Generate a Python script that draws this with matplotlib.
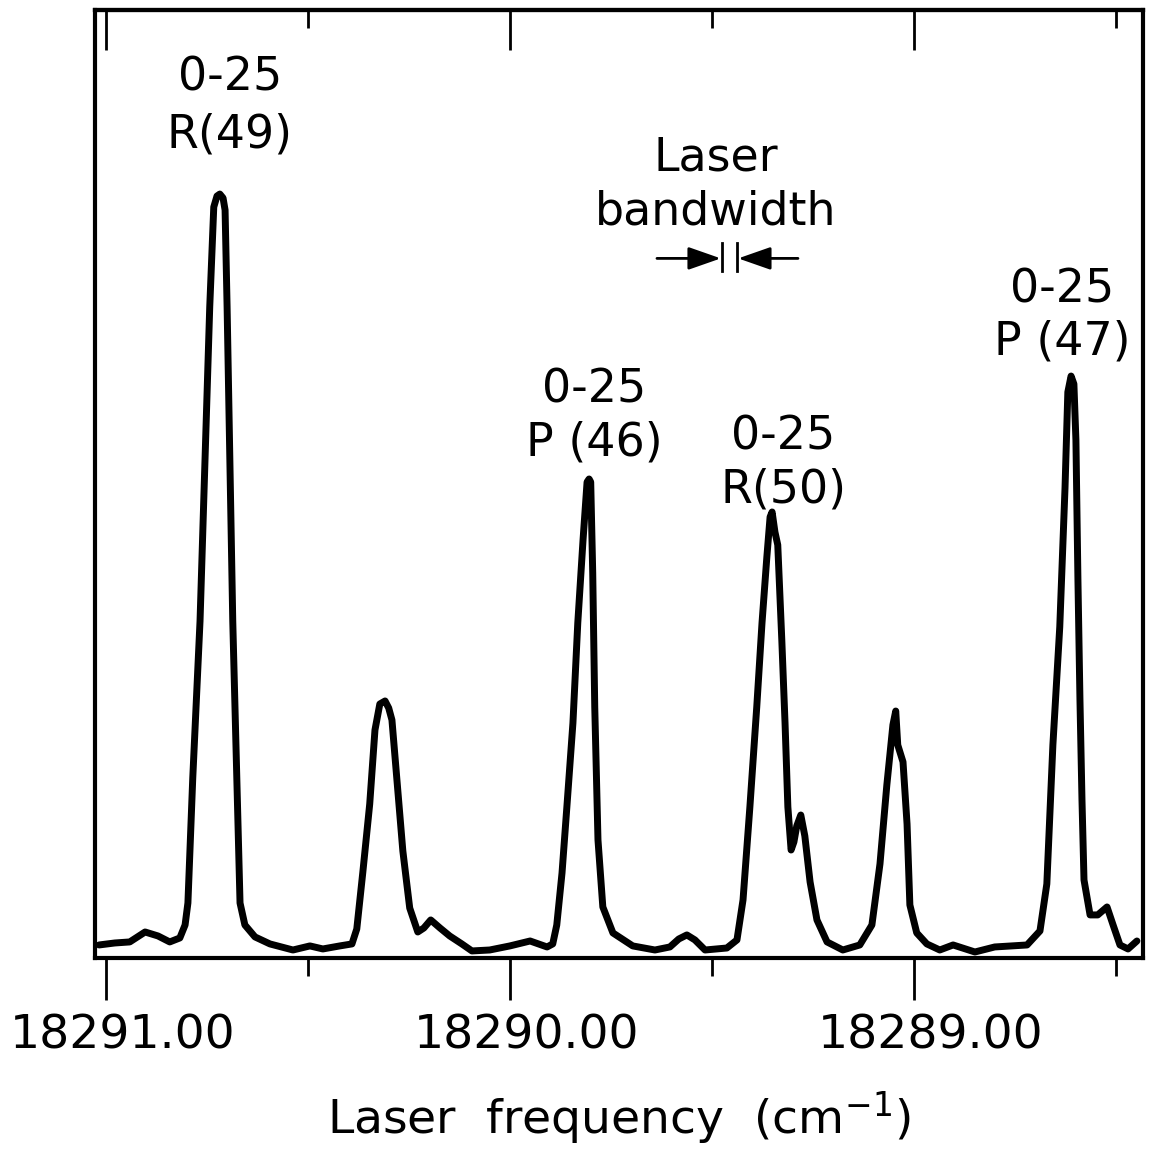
import matplotlib
matplotlib.use("Agg")
import matplotlib.pyplot as plt
from matplotlib.transforms import ScaledTranslation

# ---- data ----
freq = [18291.017, 18290.978, 18290.941, 18290.903, 18290.871, 18290.842, 18290.817,
        18290.804, 18290.797, 18290.785, 18290.767, 18290.755, 18290.743, 18290.733,
        18290.725, 18290.718, 18290.710, 18290.705, 18290.700, 18290.693, 18290.686,
        18290.676, 18290.668, 18290.656, 18290.631, 18290.594, 18290.537, 18290.495,
        18290.463, 18290.421, 18290.391, 18290.379, 18290.364, 18290.347, 18290.334,
        18290.322, 18290.309, 18290.300, 18290.292, 18290.280, 18290.265, 18290.248,
        18290.228, 18290.213, 18290.196, 18290.173, 18290.149, 18290.119, 18290.094,
        18290.050, 18290.000, 18289.950, 18289.908, 18289.894, 18289.884, 18289.871,
        18289.859, 18289.844, 18289.832, 18289.819, 18289.809, 18289.804, 18289.800,
        18289.795, 18289.790, 18289.782, 18289.770, 18289.745, 18289.696, 18289.641,
        18289.604, 18289.582, 18289.562, 18289.542, 18289.517, 18289.463, 18289.438,
        18289.423, 18289.406, 18289.389, 18289.376, 18289.364, 18289.356, 18289.351,
        18289.344, 18289.337, 18289.327, 18289.319, 18289.312, 18289.304, 18289.297,
        18289.290, 18289.280, 18289.270, 18289.257, 18289.240, 18289.215, 18289.176,
        18289.134, 18289.104, 18289.084, 18289.067, 18289.052, 18289.045, 18289.040,
        18289.027, 18289.017, 18289.010, 18288.993, 18288.968, 18288.936, 18288.903,
        18288.849, 18288.800, 18288.720, 18288.688, 18288.671, 18288.656, 18288.639,
        18288.626, 18288.619, 18288.611, 18288.604, 18288.599, 18288.594, 18288.589,
        18288.584, 18288.579, 18288.564, 18288.545, 18288.522, 18288.507, 18288.490,
        18288.470, 18288.448]

intensity = [1.37, 1.58, 1.69, 2.74, 2.32, 1.69, 2.11,
             3.48, 5.80, 18.99, 35.55, 52.11, 68.67, 79.22,
             80.38, 80.59, 80.17, 78.90, 68.67, 52.11, 35.55,
             18.99, 5.80, 3.48, 2.22, 1.48, 0.84, 1.27,
             0.95, 1.27, 1.48, 3.06, 9.07, 16.24, 24.05,
             26.79, 27.11, 26.37, 25.11, 18.99, 11.29, 5.27,
             2.74, 3.16, 4.01, 3.16, 2.32, 1.48, 0.74,
             0.84, 1.27, 1.79, 1.16, 1.48, 3.48, 8.97,
             15.93, 24.79, 35.34, 44.09, 50.21, 50.53, 50.21,
             40.61, 26.48, 12.45, 5.38, 2.64, 1.27, 0.84,
             1.16, 2.00, 2.43, 1.90, 0.84, 1.05, 1.90,
             6.12, 15.93, 26.48, 35.34, 42.30, 46.52, 47.05,
             44.94, 43.57, 33.54, 24.79, 15.93, 11.39, 12.24,
             13.92, 15.08, 12.87, 8.02, 4.01, 1.69, 0.84,
             1.37, 3.48, 9.92, 18.25, 24.58, 26.05, 22.47,
             20.68, 14.14, 5.59, 2.64, 1.48, 0.84, 1.37,
             0.63, 1.16, 1.37, 2.85, 7.81, 22.47, 34.92,
             49.58, 59.70, 61.39, 60.55, 54.64, 39.87, 27.22,
             16.67, 8.23, 4.54, 4.54, 5.38, 3.48, 1.37,
             0.95, 1.79]

major_ticks = [18291.00, 18290.00, 18289.00]
minor_ticks = [18290.50, 18289.50, 18288.50]
tick_labels = ["18291.00", "18290.00", "18289.00"]

line_names = ["0-25", "0-25", "0-25", "0-25"]
branch_names = ["R(49)", "P (46)", "R(50)", "P (47)"]
label_x = [18290.693, 18289.792, 18289.324, 18288.634]
label_y_top = [92.8, 59.9, 55.0, 70.5]
label_y_bot = [86.8, 54.3, 49.4, 65.0]

plt.rcParams['font.family'] = ['DejaVu Sans']

fig = plt.figure(figsize=(11.5, 11.55), dpi=100)
ax = fig.add_axes([0.0826, 0.1706, 0.9113, 0.8207])

ax.plot(freq, intensity, color='black', lw=5.0, solid_joinstyle='round',
        solid_capstyle='round')

ax.set_xlim(18291.027, 18288.433)
ax.set_ylim(0, 100)

for s in ax.spines.values():
    s.set_linewidth(3.0)

ax.set_yticks([])
ax.set_xticks(major_ticks)
ax.set_xticks(minor_ticks, minor=True)
ax.set_xticklabels(tick_labels, fontsize=34)
ax.tick_params(axis='x', which='major', direction='out', length=30, width=2.0,
               pad=10, top=False)
ax.tick_params(axis='x', which='minor', direction='out', length=13, width=2.0,
               top=False)

# inward ticks on the top spine
sec = ax.secondary_xaxis('top')
sec.set_xticks(major_ticks)
sec.set_xticks(minor_ticks, minor=True)
sec.set_xticklabels([])
sec.tick_params(axis='x', which='major', direction='in', length=29, width=2.0)
sec.tick_params(axis='x', which='minor', direction='in', length=13, width=2.0)
sec.spines['top'].set_linewidth(3.0)

for lab in ax.get_xticklabels():
    lab.set_transform(lab.get_transform() + ScaledTranslation(0.17, 0, fig.dpi_scale_trans))

ax.set_xlabel("Laser  frequency  (cm$^{-1}$)", fontsize=34, labelpad=22)

for nm, br, x, yt, yb in zip(line_names, branch_names, label_x, label_y_top, label_y_bot):
    ax.text(x, yt, nm, fontsize=33, ha='center', va='center')
    ax.text(x, yb, br, fontsize=33, ha='center', va='center')

ax.text(18289.490, 84.4, "Laser", fontsize=33, ha='center', va='center')
ax.text(18289.490, 78.7, "bandwidth", fontsize=33, ha='center', va='center')

arrow_y = 73.8
ax.annotate("", xy=(18289.478, arrow_y), xytext=(18289.636, arrow_y),
            arrowprops=dict(arrowstyle='-|>,head_length=1.0,head_width=0.35',
                            color='black', lw=2, shrinkA=0, shrinkB=0, mutation_scale=20))
ax.annotate("", xy=(18289.435, arrow_y), xytext=(18289.287, arrow_y),
            arrowprops=dict(arrowstyle='-|>,head_length=1.0,head_width=0.35',
                            color='black', lw=2, shrinkA=0, shrinkB=0, mutation_scale=20))
ax.plot([18289.475, 18289.475], [72.5, 75.4], color='black', lw=2)
ax.plot([18289.438, 18289.438], [72.5, 75.4], color='black', lw=2)

fig.savefig("out.png", dpi=100)
